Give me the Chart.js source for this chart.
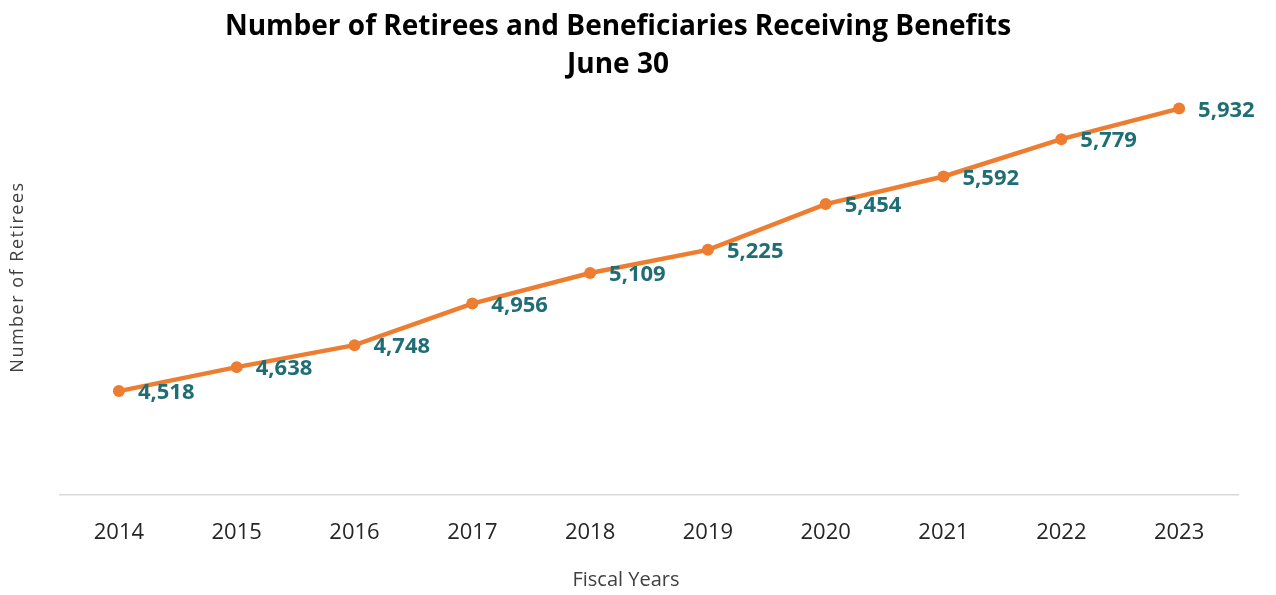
<!DOCTYPE html>
<html lang="en">
<head>
    <meta charset="UTF-8">
    <title>Number of Retirees and Beneficiaries Receiving Benefits</title>
    <script src="https://cdn.jsdelivr.net/npm/chart.js"></script>
    <style>
        html, body { margin: 0; padding: 0; background: #fff; }
        #wrap { width: 1276px; height: 595px; position: relative; }
    </style>
</head>
<body>
<div id="wrap"><canvas id="retireesChart"></canvas></div>
<script>
// Dados
const years = ['2014', '2015', '2016', '2017', '2018', '2019', '2020', '2021', '2022', '2023'];
const retirees = [4518, 4638, 4748, 4956, 5109, 5225, 5454, 5592, 5779, 5932];
const yMin = 4000;
const yMax = 6000;

const titleLines = ['Number of Retirees and Beneficiaries Receiving Benefits', 'June 30'];
const xTitle = 'Fiscal Years';
const yTitle = 'Number of Retirees';

const FONT = "'Open Sans', sans-serif";

// textos fixos: título e títulos dos eixos
const textPlugin = {
    id: 'texts',
    afterDraw(chart) {
        const ctx = chart.ctx;
        ctx.save();
        ctx.textAlign = 'center';
        ctx.textBaseline = 'middle';
        ctx.fillStyle = '#000';
        ctx.font = 'bold 28px ' + FONT;
        ctx.fillText(titleLines[0], 618, 27);
        ctx.fillText(titleLines[1], 618, 65);

        ctx.fillStyle = '#404040';
        ctx.font = '20px ' + FONT;
        ctx.fillText(xTitle, 626, 580);

        ctx.translate(18, 277);
        ctx.rotate(-Math.PI / 2);
        ctx.font = '18px ' + FONT;
        ctx.letterSpacing = '1.5px';
        ctx.fillText(yTitle, 0, 0);
        ctx.restore();
    }
};

// rótulos de valor ao lado de cada ponto
const valueLabels = {
    id: 'valueLabels',
    afterDatasetsDraw(chart) {
        const ctx = chart.ctx;
        const meta = chart.getDatasetMeta(0);
        ctx.save();
        ctx.font = 'bold 22px ' + FONT;
        ctx.fillStyle = '#1f6d75';
        ctx.textAlign = 'left';
        ctx.textBaseline = 'middle';
        meta.data.forEach((pt, i) => {
            ctx.fillText(retirees[i].toLocaleString('en-US'), pt.x + 19, pt.y + 2);
        });
        ctx.restore();
    }
};

new Chart(document.getElementById('retireesChart'), {
    type: 'line',
    data: {
        labels: years,
        datasets: [{
            data: retirees,
            borderColor: '#ED7D31',
            backgroundColor: '#ED7D31',
            borderWidth: 4.5,
            pointRadius: 6,
            pointBackgroundColor: '#ED7D31',
            pointBorderWidth: 0,
            tension: 0
        }]
    },
    options: {
        responsive: true,
        maintainAspectRatio: false,
        animation: false,
        layout: { padding: { left: 60, right: 38, top: 95, bottom: 32 } },
        plugins: {
            legend: { display: false },
            title: { display: false },
            tooltip: { enabled: false }
        },
        scales: {
            x: {
                offset: true,
                grid: { display: false },
                border: { color: '#d9d9d9', width: 1.5 },
                ticks: {
                    padding: 17,
                    color: '#262626',
                    font: { family: FONT, size: 22 }
                }
            },
            y: {
                display: false,
                min: yMin,
                max: yMax
            }
        }
    },
    plugins: [textPlugin, valueLabels]
});
</script>
</body>
</html>
